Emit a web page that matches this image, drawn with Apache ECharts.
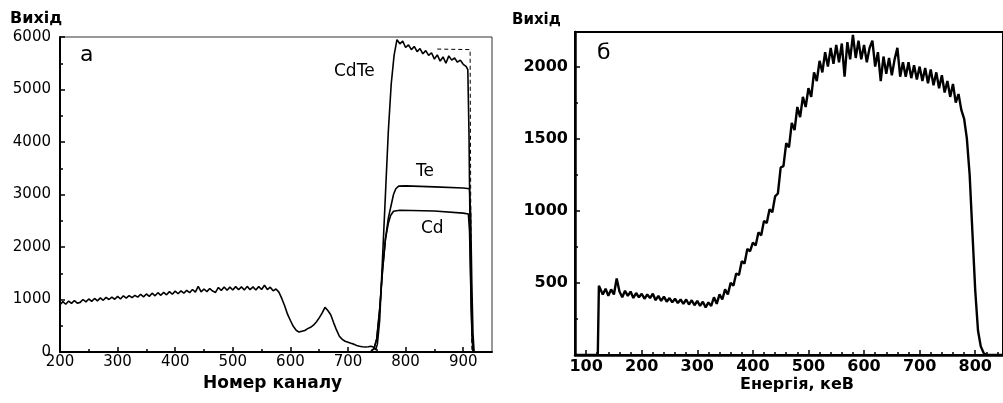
<!DOCTYPE html>
<html>
<head>
<meta charset="utf-8">
<script src="https://cdn.jsdelivr.net/npm/echarts@6/dist/echarts.min.js"></script>
<style>
  html, body { margin: 0; padding: 0; background: #fff; }
  #chart { width: 1003px; height: 403px; }
</style>
</head>
<body>
<div id="chart"></div>
<script>
// Панель а: спектр CdTe по номерах каналів
const chanStart = 200, chanStep = 5;
const cdteBase = [
  900, 960, 910, 970, 925, 980, 930, 945, 1000, 955,
  1010, 965, 1020, 975, 1030, 985, 1040, 1000, 1045, 1005,
  1060, 1010, 1070, 1025, 1075, 1035, 1080, 1045, 1100, 1050,
  1105, 1060, 1120, 1070, 1130, 1080, 1135, 1090, 1150, 1100,
  1160, 1110, 1165, 1120, 1175, 1130, 1190, 1140, 1250, 1145,
  1200, 1150, 1210, 1160, 1135, 1230, 1170, 1240, 1175, 1235,
  1180, 1245, 1185, 1240, 1180, 1250, 1185, 1240, 1180, 1245,
  1190, 1270, 1190, 1235, 1165, 1200, 1140, 1020, 880, 720,
  600, 490, 415, 380, 395, 410, 445, 470, 510, 570,
  650, 740, 850, 790, 710, 560, 420, 300, 240, 205,
  185, 165, 150, 125, 110, 100, 95, 100, 110, 90
];
const cdteEdgeX = [748, 751, 755, 760, 765, 770, 775, 780, 785, 790, 795, 800, 805, 810, 815, 820, 825, 830, 835, 840, 845, 850, 855, 860, 865, 870, 875, 880, 885, 890, 895, 900, 905, 908, 910, 912, 914, 916, 918];
const cdteEdgeY = [40, 150, 600, 1800, 3000, 4200, 5100, 5650, 5950, 5870, 5920, 5800, 5850, 5760, 5820, 5720, 5780, 5680, 5740, 5650, 5700, 5580, 5660, 5540, 5620, 5500, 5640, 5560, 5600, 5520, 5560, 5480, 5440, 5380, 4200, 2200, 800, 200, 0];
const sumX = [855, 912, 913, 915];
const sumY = [5770, 5760, 3000, 0];
const teX = [740, 745, 750, 755, 760, 765, 770, 775, 779, 783, 788, 800, 850, 900, 911, 913, 915, 917, 919];
const teY = [20, 60, 250, 800, 1550, 2150, 2550, 2800, 3000, 3110, 3160, 3165, 3145, 3125, 3110, 2600, 1300, 350, 0];
const cdX = [740, 745, 750, 755, 760, 765, 770, 774, 779, 790, 850, 900, 909, 911, 913, 915, 917];
const cdY = [20, 60, 260, 820, 1580, 2150, 2450, 2600, 2680, 2700, 2685, 2645, 2630, 2300, 1300, 400, 0];

// Панель б: спектр за енергією
const enStart = 125, enStep = 5;
const yieldBase = [
  470, 420, 460, 410, 455, 420, 530, 440, 400, 445,
  410, 440, 395, 430, 400, 425, 390, 420, 395, 425,
  380, 410, 375, 405, 370, 395, 365, 390, 360, 385,
  355, 385, 350, 380, 345, 375, 340, 370, 330, 365,
  340, 400, 355, 420, 385, 455, 420, 500, 480, 565,
  555, 650, 635, 735, 720, 780, 760, 850, 830, 930,
  915, 1010, 990, 1100, 1120, 1300, 1310, 1470, 1440, 1610,
  1560, 1720, 1650, 1790, 1720, 1850, 1790, 1960, 1900, 2040,
  1960, 2100, 2000, 2130, 2020, 2150, 2030, 2160, 1930, 2170,
  2050, 2220, 2060, 2180, 2050, 2150, 2030, 2130, 2180, 2000,
  2100, 1900, 2070, 1950, 2060, 1940, 2050, 2130, 1930, 2030,
  1930, 2030, 1920, 2010, 1910, 2000, 1900, 1990, 1885, 1980,
  1870, 1960, 1850, 1940, 1820, 1900, 1790, 1880, 1750, 1810,
  1700, 1640, 1500, 1250, 850, 450
];
const yieldEdgeStartX = [80, 121, 123];
const yieldEdgeStartY = [0, 0, 480];
const yieldTailX = [805, 810, 815, 820, 850];
const yieldTailY = [170, 60, 15, 0, 0];

// Поділки осей
const leftXTicks = [200, 300, 400, 500, 600, 700, 800, 900];
const leftXMinor = [250, 350, 450, 550, 650, 750, 850];
const leftYTicks = [0, 1000, 2000, 3000, 4000, 5000, 6000];
const leftYMinor = [500, 1500, 2500, 3500, 4500, 5500];
const rightXTicks = [100, 200, 300, 400, 500, 600, 700, 800];
const rightXMinor = [80, 120, 140, 160, 180, 220, 240, 260, 280, 320, 340, 360, 380, 420, 440, 460, 480,
  520, 540, 560, 580, 620, 640, 660, 680, 720, 740, 760, 780, 820, 840];
const rightYTicks = [500, 1000, 1500, 2000];
const rightYMinor = [250, 750, 1250, 1750];

function pairs(xs, ys) {
  return xs.map((x, i) => [x, ys[i]]);
}
function stepPairs(start, step, ys) {
  return ys.map((y, i) => [start + i * step, y]);
}

const cdteData = stepPairs(chanStart, chanStep, cdteBase).concat(pairs(cdteEdgeX, cdteEdgeY));
const yieldData = pairs(yieldEdgeStartX, yieldEdgeStartY)
  .concat(stepPairs(enStart, enStep, yieldBase))
  .concat(pairs(yieldTailX, yieldTailY));

const font = 'DejaVu Sans';

function mainAxis(grid, pos, min, max, ticks, bold, size, margin, lw) {
  return {
    type: 'value', gridIndex: grid, position: pos, min: min, max: max,
    axisLine: { show: true, lineStyle: { color: '#000', width: lw } },
    axisTick: { show: true, inside: true, length: 5, customValues: ticks, lineStyle: { color: '#000', width: 1.5 } },
    axisLabel: { customValues: ticks, color: '#000', fontFamily: font, fontSize: size,
      fontWeight: bold ? 'bold' : 'normal', margin: margin, formatter: v => String(v) },
    splitLine: { show: false }
  };
}
function minorAxis(grid, pos, min, max, ticks) {
  return {
    type: 'value', gridIndex: grid, position: pos, min: min, max: max,
    axisLine: { show: false },
    axisTick: { show: true, inside: true, length: 3, customValues: ticks, lineStyle: { color: '#000', width: 1.5 } },
    axisLabel: { show: false },
    splitLine: { show: false }
  };
}

const chart = echarts.init(document.getElementById('chart'));
const option = {
  animation: false,
  backgroundColor: '#fff',
  grid: [
    { left: 60, top: 37, width: 432, height: 315, show: true, borderColor: '#333', borderWidth: 1 },
    { left: 575, top: 32, right: -13, height: 323, show: true, borderColor: '#000', borderWidth: 2 }
  ],
  xAxis: [
    mainAxis(0, 'bottom', 200, 950, leftXTicks, false, 15, 3, 2),
    minorAxis(0, 'bottom', 200, 950, leftXMinor),
    mainAxis(1, 'bottom', 80, 850, rightXTicks, true, 16, 4, 2.5),
    minorAxis(1, 'bottom', 80, 850, rightXMinor)
  ],
  yAxis: [
    mainAxis(0, 'left', 0, 6000, leftYTicks, false, 15, 9, 2),
    minorAxis(0, 'left', 0, 6000, leftYMinor),
    mainAxis(1, 'left', 0, 2240, rightYTicks, true, 16, 7, 2.5),
    minorAxis(1, 'left', 0, 2240, rightYMinor)
  ],
  series: [
    { type: 'line', xAxisIndex: 0, yAxisIndex: 0, data: cdteData, symbol: 'none',
      lineStyle: { color: '#000', width: 1.6 } },
    { type: 'line', xAxisIndex: 0, yAxisIndex: 0, data: pairs(sumX, sumY), symbol: 'none',
      lineStyle: { color: '#000', width: 1, type: [4, 3] } },
    { type: 'line', xAxisIndex: 0, yAxisIndex: 0, data: pairs(teX, teY), symbol: 'none',
      lineStyle: { color: '#000', width: 1.6 } },
    { type: 'line', xAxisIndex: 0, yAxisIndex: 0, data: pairs(cdX, cdY), symbol: 'none',
      lineStyle: { color: '#000', width: 1.6 } },
    { type: 'line', xAxisIndex: 2, yAxisIndex: 2, data: yieldData, symbol: 'none',
      lineStyle: { color: '#000', width: 2.4 } }
  ],
  graphic: [
    { type: 'text', left: 10, top: 11, style: { text: 'Вихід', font: 'bold 16px ' + font, fill: '#000' } },
    { type: 'text', left: 512, top: 13, style: { text: 'Вихід', font: 'bold 15px ' + font, fill: '#000' } },
    { type: 'text', left: 80, top: 44, style: { text: 'а', font: '22px ' + font, fill: '#000' } },
    { type: 'text', left: 334, top: 63, style: { text: 'CdTe', font: '17px ' + font, fill: '#000' } },
    { type: 'text', left: 416, top: 163, style: { text: 'Te', font: '17px ' + font, fill: '#000' } },
    { type: 'text', left: 421, top: 220, style: { text: 'Cd', font: '17px ' + font, fill: '#000' } },
    { type: 'text', left: 597, top: 42, style: { text: 'б', font: '22px ' + font, fill: '#000' } },
    { type: 'text', left: 203, top: 375, style: { text: 'Номер каналу', font: 'bold 17px ' + font, fill: '#000' } },
    { type: 'text', left: 740, top: 377, style: { text: 'Енергія, кеВ', font: 'bold 16px ' + font, fill: '#000' } }
  ]
};
chart.setOption(option);
</script>
</body>
</html>
